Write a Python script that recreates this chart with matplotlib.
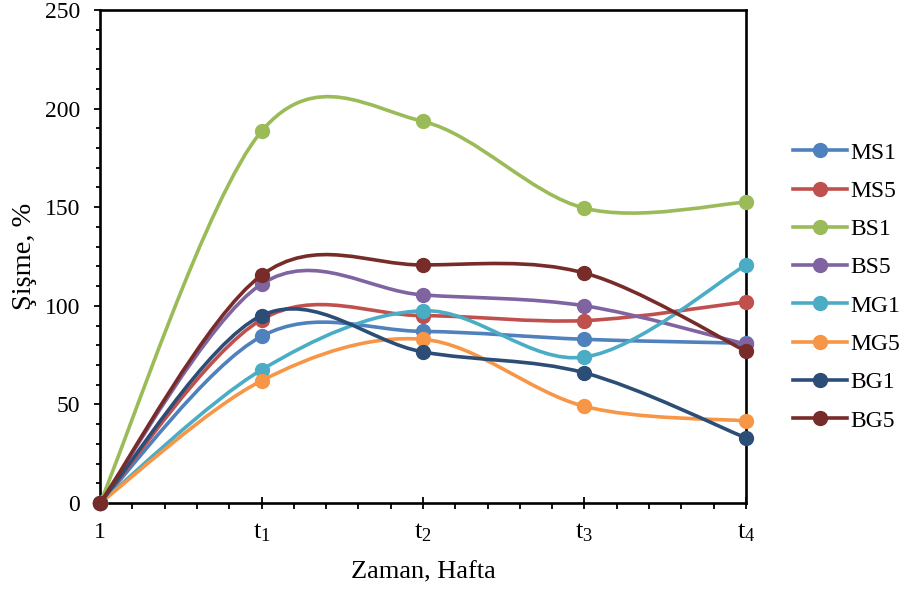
# Şişme - zaman grafiği (Excel tarzı yumuşatılmış çizgiler)
import numpy as np
import matplotlib
matplotlib.use('Agg')
import matplotlib.pyplot as plt
from matplotlib.path import Path
from matplotlib.patches import PathPatch
from matplotlib.lines import Line2D
from matplotlib.ticker import MultipleLocator, AutoMinorLocator

plt.rcParams['font.family'] = ['Liberation Serif', 'DejaVu Serif']
plt.rcParams['mathtext.fontset'] = 'custom'
plt.rcParams['mathtext.rm'] = 'Liberation Serif'
plt.rcParams['mathtext.it'] = 'Liberation Serif:italic'

# veriler
x_labels = ['1', r'$\mathrm{t}_{1}$', r'$\mathrm{t}_{2}$', r'$\mathrm{t}_{3}$', r'$\mathrm{t}_{4}$']
series_names = ['MS1', 'MS5', 'BS1', 'BS5', 'MG1', 'MG5', 'BG1', 'BG5']
MS1 = [0, 84.5, 87, 83, 81]
MS5 = [0, 93, 95, 92.5, 102]
BS1 = [0, 188.5, 193.5, 149.5, 152.5]
BS5 = [0, 111, 105.5, 100, 80.5]
MG1 = [0, 67.5, 97.5, 74, 120.7]
MG5 = [0, 62, 83, 49, 41.6]
BG1 = [0, 95, 76.6, 66, 33]
BG5 = [0, 115.5, 120.7, 116.6, 77]
all_values = [MS1, MS5, BS1, BS5, MG1, MG5, BG1, BG5]
colors = ['#4F81BD', '#C0504D', '#9BBB59', '#8064A2',
          '#4BACC6', '#F79646', '#2C4D75', '#772C2A']


def smooth_path(xs, ys):
    # Catmull-Rom -> Bezier, Excel'in "düzgün çizgi" seçeneğine benzer
    pts = np.column_stack([xs, ys]).astype(float)
    n = len(pts)
    verts = [pts[0]]
    codes = [Path.MOVETO]
    for i in range(n - 1):
        p0 = pts[i - 1] if i > 0 else pts[i]
        p1 = pts[i]
        p2 = pts[i + 1]
        p3 = pts[i + 2] if i + 2 < n else pts[i + 1]
        c1 = p1 + (p2 - p0) / 6.0
        c2 = p2 - (p3 - p1) / 6.0
        verts += [c1, c2, p2]
        codes += [Path.CURVE4] * 3
    return Path(verts, codes)


fig = plt.figure(figsize=(9, 5.9), dpi=100)
ax = fig.add_axes([100 / 900, 87 / 590, 646 / 900, 493 / 590])

xs = np.arange(len(x_labels))
handles = []
for i, (name, vals, c) in enumerate(zip(series_names, all_values, colors)):
    patch = PathPatch(smooth_path(xs, vals), facecolor='none', edgecolor=c,
                      lw=2.6, zorder=3 + i, clip_on=False)
    ax.add_patch(patch)
    ax.plot(xs, vals, ls='none', marker='o', ms=10, color=c,
            zorder=3 + i, clip_on=False)
    handles.append(Line2D([], [], color=c, lw=2.6, marker='o', ms=10))

ax.set_xlim(0, 4)
ax.set_ylim(0, 250)
ax.set_xticks(xs)
ax.set_xticklabels(x_labels)
ax.xaxis.set_minor_locator(AutoMinorLocator(5))
ax.yaxis.set_major_locator(MultipleLocator(50))
ax.yaxis.set_minor_locator(MultipleLocator(10))

for s in ax.spines.values():
    s.set_linewidth(1.9)
ax.tick_params(axis='x', which='major', direction='inout', length=9, width=1.3,
               labelsize=19, pad=9)
ax.tick_params(axis='x', which='minor', direction='out', length=4, width=1.3)
ax.tick_params(axis='y', which='major', direction='out', length=4.5, width=1.3,
               labelsize=17, pad=10)
ax.tick_params(axis='y', which='minor', direction='out', length=3, width=1.3)
ax.get_xticklabels()[0].set_fontsize(17)

ax.set_xlabel('Zaman, Hafta', fontsize=19)
ax.set_ylabel('Şişme, %', fontsize=20.5)
ax.xaxis.set_label_coords(0.5, -0.1176)
ax.yaxis.set_label_coords(-0.0975, 0.5)

ax.legend(handles, series_names, loc='upper left',
          bbox_to_anchor=(793 / 900, 1 - 142 / 590), bbox_transform=fig.transFigure,
          frameon=False, fontsize=17, handlelength=2.3, handletextpad=0.13,
          labelspacing=0.71, borderpad=0, borderaxespad=0)

fig.savefig('out.png', dpi=100)
